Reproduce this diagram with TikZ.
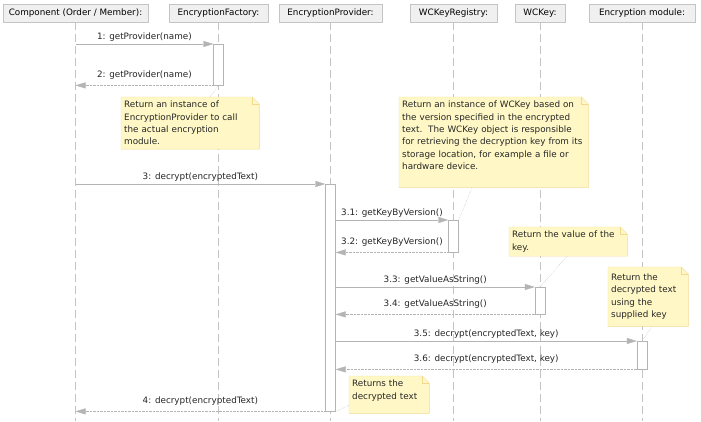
\documentclass[tikz,border=0pt]{standalone}
\usepackage{fontspec}
\setmainfont{DejaVu Sans}
\usetikzlibrary{arrows.meta,positioning}
\definecolor{headfill}{HTML}{F0F0F0}
\definecolor{headline}{HTML}{C4C4C4}
\definecolor{msgline}{HTML}{B4B4B4}
\definecolor{notefill}{HTML}{FFF8C6}
\definecolor{noteline}{HTML}{F2D98C}

\begin{document}
\begin{tikzpicture}[
x=1pt,y=-1pt,
font=\fontsize{8.8}{12.3}\selectfont,
head/.style={draw=headline,fill=headfill,minimum height=18pt,inner sep=0pt},
life/.style={draw=headline,dash pattern=on 8pt off 4pt},
act/.style={draw=msgline,fill=white,minimum width=10pt,inner sep=0pt,anchor=north},
call/.style={draw=msgline,-{Triangle[length=10pt,width=6pt]}},
ret/.style={call,densely dotted},
msg/.style={above,text=black!85,inner sep=2pt},
note/.style={fill=notefill,anchor=north west,align=left,inner xsep=3pt,inner ysep=4pt,text=black!85},
link/.style={draw=msgline,densely dotted}
]
\fill[white] (0,0) rectangle (701,421);

% lifeline heads
\node[head,minimum width=145pt] (comp) at (75.5,13) {Component (Order / Member):};
\node[head,minimum width=99pt] (fact) at (218.5,13) {EncryptionFactory:};
\node[head,minimum width=103pt] (prov) at (330.5,13) {EncryptionProvider:};
\node[head,minimum width=87pt] (reg) at (453.5,13) {WCKeyRegistry:};
\node[head,minimum width=50pt] (key) at (540,13) {WCKey:};
\node[head,minimum width=106pt] (mod) at (642,13) {Encryption module:};

\foreach \h in {comp,fact,prov,reg,key,mod}
    \draw[life] (\h.south) -- (\h.south |- 0,421);

% activations
\node[act,minimum height=41pt] (actF) at (fact.south |- 0,44) {};
\node[act,minimum height=227pt] (actP) at (prov.south |- 0,184) {};
\node[act,minimum height=32pt] (actR) at (reg.south |- 0,220) {};
\node[act,minimum height=27pt] (actK) at (key.south |- 0,287) {};
\node[act,minimum height=28pt] (actM) at (mod.south |- 0,341) {};

% messages
\draw[call] (comp.south |- actF.north) -- node[msg]{1: getProvider(name)} (actF.north west);
\draw[ret] (actF.south west) -- node[msg,yshift=4pt]{2: getProvider(name)} (comp.south |- actF.south);
\draw[call] (comp.south |- actP.north) -- node[msg]{3: decrypt(encryptedText)} (actP.north west);
\draw[call] (actP.east |- actR.north) -- node[msg]{3.1: getKeyByVersion()} (actR.north west);
\draw[ret] (actR.south west) -- node[msg,yshift=4pt]{3.2: getKeyByVersion()} (actP.east |- actR.south);
\draw[call] (actP.east |- actK.north) -- node[msg]{3.3: getValueAsString()} (actK.north west);
\draw[ret] (actK.south west) -- node[msg,yshift=4pt]{3.4: getValueAsString()} (actP.east |- actK.south);
\draw[call] (actP.east |- actM.north) -- node[msg]{3.5: decrypt(encryptedText, key)} (actM.north west);
\draw[ret] (actM.south west) -- node[msg,yshift=4pt]{3.6: decrypt(encryptedText, key)} (actP.east |- actM.south);
\draw[ret] (actP.south west) -- node[msg,yshift=4pt]{4: decrypt(encryptedText)} (comp.south |- actP.south);

% notes
\node[note,text width=132pt] (n1) at (121,97) {Return an instance of\\EncryptionProvider to call\\the actual encryption\\module.};
\node[note,text width=183pt] (n2) at (399,97) {Return an instance of WCKey based on\\the version specified in the encrypted\\text.\ \ The WCKey object is responsible\\\mbox{for retrieving the decryption key from its}\\storage location, for example a file or\\hardware device.\rule[-14pt]{0pt}{14pt}};
\node[note,text width=112pt] (n3) at (509,227) {Return the value of the\\key.};
\node[note,text width=74pt,minimum height=59pt] (n4) at (608,267) {Return the\\decrypted text\\using the\\supplied key};
\node[note,text width=74pt] (n5) at (349,376) {Returns the\\decrypted text\rule[-10pt]{0pt}{10pt}};

\foreach \n in {n1,n2,n3,n4,n5} {
    \fill[white] ([xshift=-7pt]\n.north east) -- (\n.north east) -- ([yshift=-7pt]\n.north east) -- cycle;
    \draw[noteline] (\n.north west) -- ([xshift=-7pt]\n.north east) -- ([yshift=-7pt]\n.north east) -- (\n.south east) -- (\n.south west) -- cycle;
    \draw[noteline] ([xshift=-7pt]\n.north east) |- ([yshift=-7pt]\n.north east);
}

% note links
\draw[link] (actF.south) -- ([xshift=89pt]n1.north west);
\draw[link] (actR.north east) -- ([xshift=73pt]n2.south west);
\draw[link] (actK.north) -- ([xshift=58pt]n3.south west);
\draw[link] (actM.north) -- ([xshift=44pt]n4.south west);
\draw[link] (actP.south east) -- ([yshift=8pt]n5.south west);
\end{tikzpicture}
\end{document}
